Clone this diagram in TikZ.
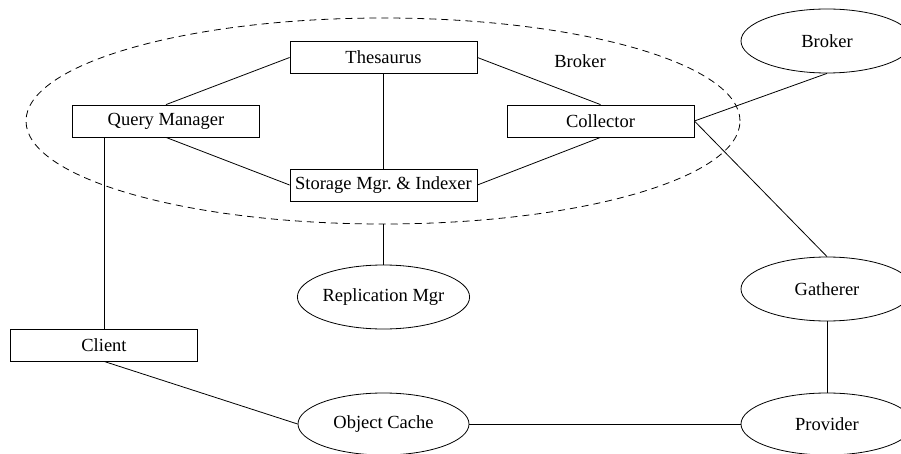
\documentclass[tikz,border=0pt]{standalone}
\usepackage{fontspec}
\setmainfont{Liberation Serif}
\usetikzlibrary{shapes.geometric}
\begin{document}
\begin{tikzpicture}[x=1pt,y=-1pt,line width=0.8pt,
  every node/.style={font=\fontsize{18.5}{22}\selectfont, inner sep=0pt},
  rbox/.style={draw, rectangle, minimum width=187pt, minimum height=32pt},
  oval/.style={draw, ellipse, minimum width=172pt, minimum height=64pt},
  group/.style={draw, ellipse, dash pattern=on 7pt off 5pt, minimum width=714pt, minimum height=206pt}]
\useasboundingbox (0,0) rectangle (901,454);
\node[group] (grp) at (383,121) {};
\node (brlabel) at (580,61) {Broker};
\node[rbox] (th) at (383.5,57.5) {Thesaurus};
\node[rbox] (qm) at (166,121) {Query Manager};
\node[rbox] (st) at (383.5,185) {Storage Mgr.\ \& Indexer};
\node[rbox] (co) at (600.5,121) {Collector};
\node[rbox] (cl) at (104,345) {Client};
\node[oval, minimum width=164pt] (rep) at (383.5,297) {Replication Mgr};
\node[oval, minimum width=171pt, minimum height=62pt] (oc) at (383.5,424) {Object Cache};
\node[oval, minimum height=62pt] (pr) at (827,424) {Provider};
\node[oval] (ga) at (827,289) {Gatherer};
\node[oval] (br) at (827,41) {Broker};
\draw (qm.north) -- (th.west);
\draw (qm.south) -- (st.west);
\draw (th.east) -- (co.north);
\draw (st.east) -- (co.south);
\draw (th.south) -- (st.north);
\draw (co.east) -- (br.south);
\draw (co.east) -- (ga.north);
\draw (rep.north |- grp.south) -- (rep.north);
\draw (cl.north) -- (cl.north |- qm.south);
\draw (cl.south) -- (oc.west);
\draw (oc.east) -- (pr.west);
\draw (ga.south) -- (pr.north);
\end{tikzpicture}
\end{document}
